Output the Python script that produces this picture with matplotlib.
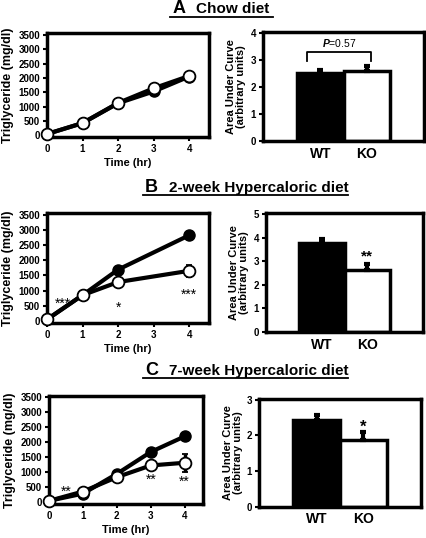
import matplotlib
matplotlib.use('Agg')
import matplotlib.pyplot as plt
from matplotlib.lines import Line2D
import numpy as np

plt.rcParams['font.family'] = ['Liberation Sans', 'DejaVu Sans']
plt.rcParams['font.weight'] = 'bold'
plt.rcParams['mathtext.fontset'] = 'custom'
plt.rcParams['mathtext.it'] = 'Liberation Sans:italic'
plt.rcParams['mathtext.rm'] = 'Liberation Sans'

# time course data
time_a = [0, 1, 2, 3, 4]
wt_a = [50, 430, 1120, 1530, 2050]
ko_a = [50, 430, 1130, 1640, 2070]
wt_a_err = [10, 30, 60, 60, 60]
ko_a_err = [10, 30, 60, 60, 60]

time_b = [0, 1, 2, 4]
wt_b = [50, 850, 1690, 2820]
ko_b = [50, 850, 1280, 1650]
wt_b_err = [10, 40, 60, 60]
ko_b_err = [10, 40, 130, 200]

time_c = [0, 1, 2, 3, 4]
wt_c = [50, 290, 950, 1680, 2200]
ko_c = [50, 360, 840, 1230, 1320]
wt_c_err = [10, 30, 60, 50, 50]
ko_c_err = [10, 30, 70, 60, 300]

# area under curve
groups = ['WT', 'KO']
auc_a = [2.51, 2.60]
auc_a_err = [0.13, 0.16]
auc_b = [3.76, 2.61]
auc_b_err = [0.17, 0.29]
auc_c = [2.42, 1.88]
auc_c_err = [0.14, 0.22]

titles = ['A', 'B', 'C']
subtitles = ['Chow diet', '2-week Hypercaloric diet', '7-week Hypercaloric diet']

fig = plt.figure(figsize=(4.27, 5.38), dpi=100)

def line_panel(rect, t, wt, ko, wte, koe, stars):
    ax = fig.add_axes(rect)
    ax.errorbar(t, wt, yerr=wte, color='black', lw=3, marker='o', ms=8,
                mfc='black', mec='black', capsize=2, capthick=3, elinewidth=2.5, clip_on=False, zorder=3)
    ax.errorbar(t, ko, yerr=koe, color='black', lw=3, marker='o', ms=8.5,
                mfc='white', mec='black', mew=1.3, capsize=2, capthick=3, elinewidth=2.5, clip_on=False, zorder=4)
    ax.set_xlim(0, 4.55)
    ax.set_ylim(-60, 3550)
    ax.set_xticks([0, 1, 2, 3, 4])
    ax.set_yticks(np.arange(0, 3501, 500))
    ax.tick_params(labelsize=7, width=1.5, length=3, pad=2)
    ax.set_ylabel('Triglyceride (mg/dl)', fontsize=9, fontweight='bold', labelpad=3)
    ax.set_xlabel('Time (hr)', fontsize=8, fontweight='bold', labelpad=3)
    for s in ax.spines.values():
        s.set_linewidth(2.5)
    for x, y, s in stars:
        ax.text(x, y, s, fontsize=10, ha='center', va='center', fontweight='normal')
    return ax

def bar_panel(rect, vals, errs, top):
    ax = fig.add_axes(rect)
    x = np.arange(len(groups))
    ax.bar(x, vals, width=1.0, color=['black', 'white'], edgecolor='black', linewidth=2.5, zorder=2)
    ax.errorbar(x, vals, yerr=[[0, 0], errs], fmt='none', ecolor='black', elinewidth=3,
                capsize=2.5, capthick=3, zorder=3)
    ax.set_xlim(-1.23, 2.23)
    ax.set_ylim(0, top * 1.01)
    ax.set_yticks(np.arange(0, top + 1, 1))
    ax.set_xticks(x)
    ax.set_xticklabels(groups, fontsize=10, fontweight='bold')
    ax.tick_params(axis='x', length=0, pad=4)
    ax.tick_params(axis='y', labelsize=7, width=1.5, length=3, pad=2)
    ax.set_ylabel('Area Under Curve\n(arbitrary units)', fontsize=8, fontweight='bold',
                  labelpad=3, linespacing=1.0)
    for s in ax.spines.values():
        s.set_linewidth(2.5)
    return ax

# panel A
line_panel([0.110, 0.745, 0.379, 0.193], time_a, wt_a, ko_a, wt_a_err, ko_a_err, [])
axb = bar_panel([0.616, 0.738, 0.377, 0.203], auc_a, auc_a_err, 4)
axb.plot([-0.28, -0.28, 1.08, 1.08], [2.97, 3.29, 3.29, 2.97], color='black', lw=1.3)
axb.text(0.4, 3.63, '$\\mathit{P}$=0.57', fontsize=7.5, ha='center', va='center', fontweight='normal')

# panel B
line_panel([0.110, 0.400, 0.379, 0.204], time_b, wt_b, ko_b, wt_b_err, ko_b_err,
           [(0.45, 550, '***'), (2, 450, '*'), (4, 850, '***')])
axb = bar_panel([0.623, 0.383, 0.368, 0.221], auc_b, auc_b_err, 5)
axb.text(1, 3.2, '**', fontsize=11, ha='center', va='center')

# panel C
line_panel([0.115, 0.063, 0.361, 0.201], time_c, wt_c, ko_c, wt_c_err, ko_c_err,
           [(0.5, 360, '**'), (3, 750, '**'), (4, 680, '**')])
axb = bar_panel([0.607, 0.058, 0.379, 0.201], auc_c, auc_c_err, 3)
axb.text(1, 2.22, '*', fontsize=12, ha='center', va='center')

# section titles, underlined
title_y = [0.975, 0.643, 0.303]
title_x0 = [170, 143, 143]
title_x1 = [273, 348, 348]
for i in range(3):
    x0 = title_x0[i] / 427
    x1 = title_x1[i] / 427
    y = title_y[i]
    fig.text(x0 + 0.005, y, titles[i], fontsize=13, fontweight='bold', ha='left', va='baseline')
    fig.text(x0 + 0.06, y, subtitles[i], fontsize=11, fontweight='bold', ha='left', va='baseline')
    fig.add_artist(Line2D([x0, x1], [y - 0.006, y - 0.006], color='black', lw=1.3))

fig.savefig('out.png', dpi=100)
